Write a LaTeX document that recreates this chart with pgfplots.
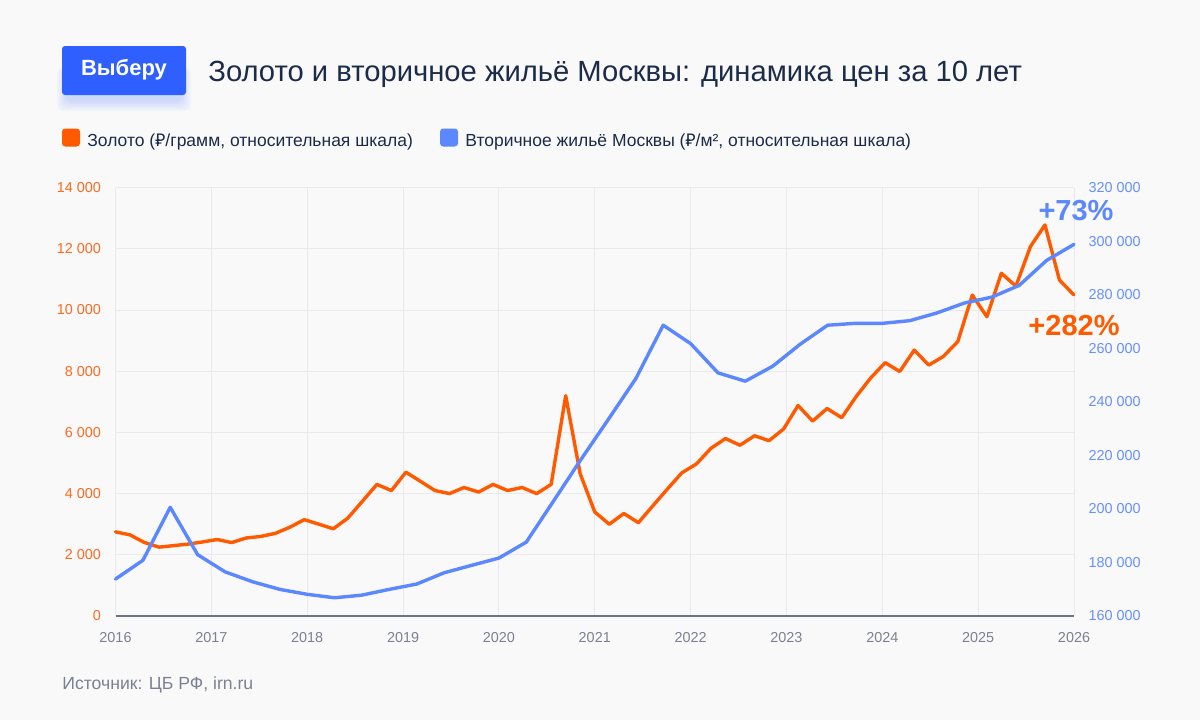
\documentclass[border=0pt]{standalone}
\usepackage{fontspec}
\setmainfont{Liberation Sans}
\newfontfamily\rubfont{Noto Sans}
\usepackage{pgfplots}
\pgfplotsset{compat=1.18}
\definecolor{bg}{HTML}{F9F9FA}
\definecolor{goldc}{HTML}{FF5A00}
\definecolor{goldt}{HTML}{FF6A1F}
\definecolor{bluec}{HTML}{5B87FF}
\definecolor{bluet}{HTML}{6690FF}
\definecolor{logo}{HTML}{2F60FF}
\definecolor{titlec}{HTML}{1B2B48}
\definecolor{grayt}{HTML}{7B8191}
\definecolor{gridc}{HTML}{EAEAED}
\definecolor{axisc}{HTML}{6E7484}

\pgfplotstableread{
x y
2016.000 2750
2016.152 2650
2016.303 2400
2016.455 2250
2016.606 2300
2016.758 2350
2016.909 2420
2017.061 2500
2017.212 2400
2017.364 2550
2017.515 2600
2017.667 2700
2017.818 2900
2017.970 3150
2018.121 3000
2018.273 2850
2018.424 3200
2018.576 3750
2018.727 4300
2018.879 4100
2019.030 4700
2019.182 4400
2019.333 4100
2019.485 4000
2019.636 4200
2019.788 4050
2019.939 4300
2020.091 4100
2020.242 4200
2020.394 4000
2020.545 4300
2020.697 7200
2020.848 4650
2021.000 3400
2021.152 3000
2021.303 3350
2021.455 3050
2021.606 3600
2021.758 4150
2021.909 4680
2022.061 4970
2022.212 5480
2022.364 5800
2022.515 5580
2022.667 5890
2022.818 5730
2022.970 6110
2023.121 6880
2023.273 6370
2023.424 6780
2023.576 6480
2023.727 7170
2023.879 7780
2024.030 8280
2024.182 7990
2024.333 8690
2024.485 8200
2024.636 8480
2024.788 8970
2024.939 10490
2025.091 9780
2025.242 11200
2025.394 10780
2025.545 12070
2025.697 12780
2025.848 10980
2026.000 10490
}\gold

\pgfplotstableread{
x y
2016.000 173800
2016.286 180800
2016.571 200600
2016.857 182900
2017.143 176500
2017.429 172800
2017.714 169950
2018.000 168100
2018.286 166800
2018.571 167800
2018.857 169950
2019.143 171940
2019.429 176150
2019.714 178900
2020.000 181640
2020.286 187600
2020.571 203000
2020.857 218500
2021.143 233500
2021.429 248700
2021.714 268600
2022.000 261750
2022.286 250800
2022.571 247700
2022.857 253300
2023.143 261500
2023.429 268600
2023.714 269300
2024.000 269300
2024.286 270300
2024.571 273200
2024.857 276900
2025.143 279100
2025.429 283500
2025.714 292800
2026.000 298800
}\flat

\begin{document}
\begin{tikzpicture}
\useasboundingbox (0,0) rectangle (600pt,360pt);
\fill[bg] (0,0) rectangle (600pt,360pt);

% logo shadow
\foreach \s in {0,1,2,3,4,5}{
  \fill[logo, opacity=0.035, rounded corners=3pt] ({33pt-\s*0.9pt},{309pt-\s*0.9pt}) rectangle ({91pt+\s*0.9pt},{326pt});
}
\fill[logo, rounded corners=1.5pt] (31pt,312.5pt) rectangle (93pt,337pt);
\node[text=white, font=\bfseries\fontsize{11}{12}\selectfont] at (62pt,324.9pt) {Выберу};

\node[anchor=base west, text=titlec, font=\fontsize{14.6}{16}\selectfont, inner sep=0pt] at (104pt,319.5pt) {Золото и вторичное жильё Москвы: динамика цен за 10 лет};

% legend
\fill[goldc, rounded corners=1.6pt] (31pt,286.75pt) rectangle (40pt,295.75pt);
\node[anchor=base west, text=titlec, font=\fontsize{8.75}{10}\selectfont, inner sep=0pt] at (43.5pt,287pt) {Золото ({\rubfont ₽}/грамм, относительная шкала)};
\fill[bluec, rounded corners=1.6pt] (220pt,286.75pt) rectangle (229pt,295.75pt);
\node[anchor=base west, text=titlec, font=\fontsize{8.75}{10}\selectfont, inner sep=0pt] at (232.5pt,287pt) {Вторичное жильё Москвы ({\rubfont ₽}/м², относительная шкала)};

% source
\node[anchor=base west, text=grayt, font=\fontsize{8.8}{10}\selectfont, inner sep=0pt] at (31pt,15.5pt) {Источник: ЦБ РФ, irn.ru};

\begin{axis}[
  at={(57.75pt,52pt)}, anchor=south west,
  scale only axis, width=479.25pt, height=214.2pt,
  xmin=2016, xmax=2026, ymin=0, ymax=14000,
  clip=false, scaled y ticks=false, scaled x ticks=false,
  axis x line*=bottom, axis y line*=left,
  y axis line style={draw=none},
  x axis line style={draw=axisc, line width=0.6pt},
  major tick length=0pt,
  xtick={2016,2017,2018,2019,2020,2021,2022,2023,2024,2025,2026},
  xticklabels={2016,2017,2018,2019,2020,2021,2022,2023,2024,2025,2026},
  ytick={0,2000,4000,6000,8000,10000,12000,14000},
  yticklabels={0,2 000,4 000,6 000,8 000,10 000,12 000,14 000},
  grid=major,
  major grid style={draw=gridc, line width=0.5pt},
  tick label style={font=\fontsize{7.2}{8}\selectfont},
  xticklabel style={text=grayt, yshift=-4.5pt},
  yticklabel style={text=goldt, xshift=-3.8pt},
]
\addplot[goldc, line width=1.7pt, line join=round, line cap=round] table[x=x,y=y] {\gold};
\end{axis}

\begin{axis}[
  at={(57.75pt,52pt)}, anchor=south west,
  scale only axis, width=479.25pt, height=214.2pt,
  xmin=2016, xmax=2026, ymin=160000, ymax=320000,
  clip=false, scaled y ticks=false,
  axis x line=none, axis y line*=right,
  y axis line style={draw=none},
  major tick length=0pt,
  ytick={160000,180000,200000,220000,240000,260000,280000,300000,320000},
  yticklabels={160 000,180 000,200 000,220 000,240 000,260 000,280 000,300 000,320 000},
  tick label style={font=\fontsize{7.2}{8}\selectfont},
  yticklabel style={text=bluet, xshift=3.8pt},
]
\addplot[bluec, line width=1.7pt, line join=round, line cap=round] table[x=x,y=y] {\flat};
\end{axis}

\node[text=bluec, font=\bfseries\fontsize{14.5}{16}\selectfont] at (538pt,254.5pt) {+73\%};
\node[text=goldc, font=\bfseries\fontsize{14.5}{16}\selectfont] at (537pt,197pt) {+282\%};
\end{tikzpicture}
\end{document}
